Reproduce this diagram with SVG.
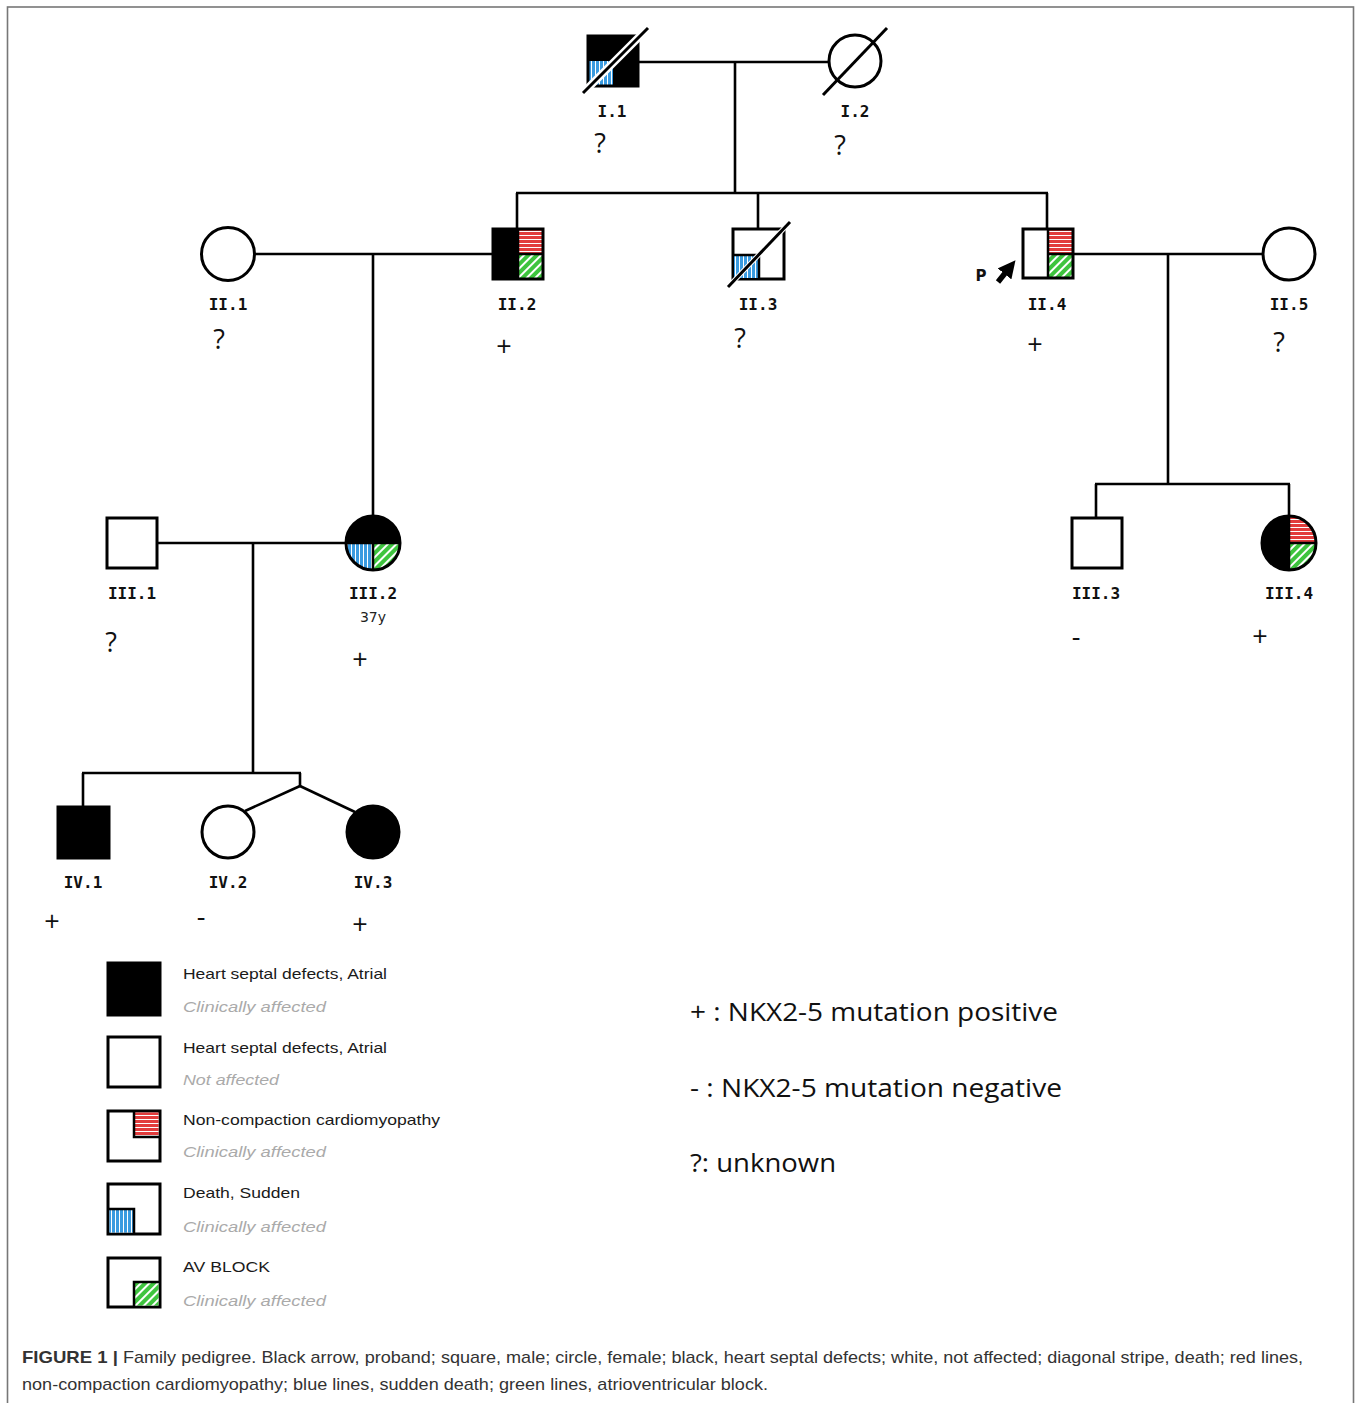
<svg xmlns="http://www.w3.org/2000/svg" width="1360" height="1403" viewBox="0 0 1360 1403">
<style>
.sh{fill:#fff;stroke:#000;stroke-width:3}
.blk{fill:#000;stroke:#000;stroke-width:3}
.ln{stroke:#000;stroke-width:2.6;fill:none}
.dv{stroke:#000;stroke-width:2.5;fill:none}
.lab{font-family:"DejaVu Sans Mono",monospace;font-weight:bold;font-size:16px;text-anchor:middle;fill:#111}
.gt{font-family:"Open Sans","Noto Sans",sans-serif;font-size:27px;text-anchor:middle;fill:#111}
.lg{font-family:"Liberation Sans",Arial,sans-serif;font-size:15px;fill:#1a1a1a}
.lgs{font-family:"Liberation Sans",Arial,sans-serif;font-size:15px;font-style:italic;fill:#aaa}
.key{font-family:"Open Sans","Noto Sans",sans-serif;font-size:25px;fill:#111}
.cap{font-family:"Liberation Sans Narrow","Liberation Sans",Arial,sans-serif;font-size:17px;fill:#333}
.halo{stroke:#fff;stroke-width:8;fill:none}
.slash{stroke:#000;stroke-width:3;fill:none}
</style>
<defs>
<pattern id="red" patternUnits="userSpaceOnUse" width="8" height="4">
<rect width="8" height="4" fill="#e23c3c"/><rect y="3" width="8" height="1" fill="#fff"/>
</pattern>
<pattern id="blue" patternUnits="userSpaceOnUse" width="4" height="8">
<rect width="4" height="8" fill="#3a9be0"/><rect x="3" width="1" height="8" fill="#fff"/>
</pattern>
<pattern id="green" patternUnits="userSpaceOnUse" width="6" height="6" patternTransform="rotate(45)">
<rect width="6" height="6" fill="#3ec43e"/><rect x="4" width="2" height="6" fill="#fff"/>
</pattern>
<marker id="arr" viewBox="0 0 10 10" refX="5" refY="5" markerWidth="3.2" markerHeight="3.2" orient="auto">
<path d="M0,0 L10,5 L0,10 Z" fill="#000"/>
</marker>
</defs>
<rect width="1360" height="1403" fill="#fff"/>
<rect x="7.5" y="7" width="1346" height="1410" fill="none" stroke="#777" stroke-width="1.6"/>

<g id="connectors">
<line class="ln" x1="638" y1="62" x2="829" y2="62"/>
<line class="ln" x1="735" y1="62" x2="735" y2="193"/>
<line class="ln" x1="516" y1="193" x2="1048" y2="193"/>
<line class="ln" x1="517" y1="193" x2="517" y2="229"/>
<line class="ln" x1="758" y1="193" x2="758" y2="229"/>
<line class="ln" x1="1047" y1="193" x2="1047" y2="229"/>
<line class="ln" x1="255" y1="254" x2="493" y2="254"/>
<line class="ln" x1="373" y1="254" x2="373" y2="516"/>
<line class="ln" x1="1073" y1="254" x2="1263" y2="254"/>
<line class="ln" x1="1168" y1="254" x2="1168" y2="484"/>
<line class="ln" x1="1095" y1="484" x2="1290" y2="484"/>
<line class="ln" x1="1096" y1="484" x2="1096" y2="518"/>
<line class="ln" x1="1289" y1="484" x2="1289" y2="516"/>
<line class="ln" x1="157" y1="543" x2="346" y2="543"/>
<line class="ln" x1="253" y1="543" x2="253" y2="773"/>
<line class="ln" x1="82" y1="773" x2="301" y2="773"/>
<line class="ln" x1="83" y1="773" x2="83" y2="807"/>
<line class="ln" x1="300" y1="773" x2="300" y2="786"/>
<line class="ln" x1="300" y1="786" x2="245" y2="811"/>
<line class="ln" x1="300" y1="786" x2="355" y2="812"/>
</g>

<g id="I1">
<rect class="blk" x="588" y="36" width="50" height="50"/>
<rect x="589.5" y="61" width="23.5" height="23.5" fill="url(#blue)"/>
<line class="halo" x1="583" y1="93" x2="648" y2="28"/>
<line class="slash" x1="583" y1="93" x2="648" y2="28"/>
<text class="lab" x="612" y="117">I.1</text>
<text class="gt" x="600" y="153">?</text>
</g>

<g id="I2">
<circle class="sh" cx="855" cy="61" r="26"/>
<line class="slash" x1="823" y1="95" x2="887" y2="28"/>
<text class="lab" x="855" y="117">I.2</text>
<text class="gt" x="840" y="155">?</text>
</g>

<g id="II1">
<circle class="sh" cx="228" cy="254" r="26.5"/>
<text class="lab" x="228" y="310">II.1</text>
<text class="gt" x="219" y="349">?</text>
</g>

<g id="II2">
<rect x="493" y="229" width="25" height="50" fill="#000"/>
<rect x="518" y="229" width="25" height="25" fill="url(#red)"/>
<rect x="518" y="254" width="25" height="25" fill="url(#green)"/>
<line class="dv" x1="518" y1="229" x2="518" y2="279"/>
<line class="dv" x1="518" y1="254" x2="543" y2="254"/>
<rect x="493" y="229" width="50" height="50" fill="none" stroke="#000" stroke-width="3"/>
<text class="lab" x="517" y="310">II.2</text>
<text class="gt" x="504" y="356">+</text>
</g>

<g id="II3">
<rect class="sh" x="733" y="229" width="51" height="50"/>
<rect x="734" y="255" width="25" height="23" fill="url(#blue)"/>
<path class="dv" d="M733,255 H759 V279"/>
<line class="halo" x1="728" y1="287" x2="790" y2="222" style="stroke-width:5"/>
<line class="slash" x1="728" y1="287" x2="790" y2="222"/>
<text class="lab" x="758" y="310">II.3</text>
<text class="gt" x="740" y="348">?</text>
</g>

<g id="II4">
<rect x="1023" y="229" width="50" height="49" fill="#fff"/>
<rect x="1048" y="229" width="25" height="25" fill="url(#red)"/>
<rect x="1048" y="254" width="25" height="24" fill="url(#green)"/>
<line class="dv" x1="1048" y1="229" x2="1048" y2="278"/>
<line class="dv" x1="1048" y1="254" x2="1073" y2="254"/>
<rect x="1023" y="229" width="50" height="49" fill="none" stroke="#000" stroke-width="3"/>
<text x="981" y="281" font-family="DejaVu Sans,sans-serif" font-weight="bold" font-size="15" text-anchor="middle" fill="#111">P</text>
<line x1="998" y1="282" x2="1010" y2="267" stroke="#000" stroke-width="5.5" marker-end="url(#arr)"/>
<text class="lab" x="1047" y="310">II.4</text>
<text class="gt" x="1035" y="354">+</text>
</g>

<g id="II5">
<circle class="sh" cx="1289" cy="254" r="26"/>
<text class="lab" x="1289" y="310">II.5</text>
<text class="gt" x="1279" y="352">?</text>
</g>

<g id="III1">
<rect class="sh" x="107" y="518" width="50" height="50"/>
<text class="lab" x="132" y="599">III.1</text>
<text class="gt" x="111" y="652">?</text>
</g>

<g id="III2">
<circle cx="373" cy="543" r="27" fill="#fff"/>
<path d="M346,543 A27,27 0 0 1 400,543 Z" fill="#000"/>
<path d="M373,543 L346,543 A27,27 0 0 0 373,570 Z" fill="url(#blue)"/>
<path d="M373,543 L373,570 A27,27 0 0 0 400,543 Z" fill="url(#green)"/>
<line class="dv" x1="346" y1="543" x2="400" y2="543"/>
<line class="dv" x1="373" y1="543" x2="373" y2="570"/>
<circle cx="373" cy="543" r="27" fill="none" stroke="#000" stroke-width="3"/>
<text class="lab" x="373" y="599">III.2</text>
<text x="373" y="622" font-family="DejaVu Sans,sans-serif" font-size="14" text-anchor="middle" fill="#222">37y</text>
<text class="gt" x="360" y="669">+</text>
</g>

<g id="III3">
<rect class="sh" x="1072" y="518" width="50" height="50"/>
<text class="lab" x="1096" y="599">III.3</text>
<text class="gt" x="1076" y="646">-</text>
</g>

<g id="III4">
<circle cx="1289" cy="543" r="27" fill="#fff"/>
<path d="M1289,516 A27,27 0 0 0 1289,570 Z" fill="#000"/>
<path d="M1289,543 L1289,516 A27,27 0 0 1 1316,543 Z" fill="url(#red)"/>
<path d="M1289,543 L1316,543 A27,27 0 0 1 1289,570 Z" fill="url(#green)"/>
<line class="dv" x1="1289" y1="516" x2="1289" y2="570"/>
<line class="dv" x1="1289" y1="543" x2="1316" y2="543"/>
<circle cx="1289" cy="543" r="27" fill="none" stroke="#000" stroke-width="3"/>
<text class="lab" x="1289" y="599">III.4</text>
<text class="gt" x="1260" y="646">+</text>
</g>

<g id="IV1">
<rect class="blk" x="58" y="807" width="51" height="51"/>
<text class="lab" x="83" y="888">IV.1</text>
<text class="gt" x="52" y="931">+</text>
</g>

<g id="IV2">
<circle class="sh" cx="228" cy="832" r="26"/>
<text class="lab" x="228" y="888">IV.2</text>
<text class="gt" x="201" y="926">-</text>
</g>

<g id="IV3">
<circle class="blk" cx="373" cy="832" r="26"/>
<text class="lab" x="373" y="888">IV.3</text>
<text class="gt" x="360" y="934">+</text>
</g>

<g id="legend">
<rect class="blk" x="108" y="963" width="52" height="52"/>
<text class="lg" x="183" y="979" textLength="204" lengthAdjust="spacingAndGlyphs">Heart septal defects, Atrial</text>
<text class="lgs" x="183" y="1012" textLength="143" lengthAdjust="spacingAndGlyphs">Clinically affected</text>

<rect class="sh" x="108" y="1037" width="52" height="50"/>
<text class="lg" x="183" y="1053" textLength="204" lengthAdjust="spacingAndGlyphs">Heart septal defects, Atrial</text>
<text class="lgs" x="183" y="1085" textLength="96" lengthAdjust="spacingAndGlyphs">Not affected</text>

<rect class="sh" x="108" y="1111" width="52" height="50"/>
<rect x="134" y="1112.5" width="24.5" height="24.5" fill="url(#red)"/>
<path class="dv" d="M134,1111 V1137 H160"/>
<text class="lg" x="183" y="1125" textLength="257" lengthAdjust="spacingAndGlyphs">Non-compaction cardiomyopathy</text>
<text class="lgs" x="183" y="1157" textLength="143" lengthAdjust="spacingAndGlyphs">Clinically affected</text>

<rect class="sh" x="108" y="1184" width="52" height="50"/>
<rect x="109.5" y="1209" width="24.5" height="23.5" fill="url(#blue)"/>
<path class="dv" d="M108,1209 H134 V1234"/>
<text class="lg" x="183" y="1198" textLength="117" lengthAdjust="spacingAndGlyphs">Death, Sudden</text>
<text class="lgs" x="183" y="1232" textLength="143" lengthAdjust="spacingAndGlyphs">Clinically affected</text>

<rect class="sh" x="108" y="1258" width="52" height="49"/>
<rect x="134" y="1282" width="24.5" height="23.5" fill="url(#green)"/>
<path class="dv" d="M134,1307 V1282 H160"/>
<text class="lg" x="183" y="1272" textLength="87" lengthAdjust="spacingAndGlyphs">AV BLOCK</text>
<text class="lgs" x="183" y="1306" textLength="143" lengthAdjust="spacingAndGlyphs">Clinically affected</text>
</g>

<g id="key">
<text class="key" x="690" y="1021" textLength="368" lengthAdjust="spacingAndGlyphs">+ : NKX2-5 mutation positive</text>
<text class="key" x="690" y="1097" textLength="372" lengthAdjust="spacingAndGlyphs">- : NKX2-5 mutation negative</text>
<text class="key" x="690" y="1172" textLength="146" lengthAdjust="spacingAndGlyphs">?: unknown</text>
</g>

<g id="caption">
<text class="cap" x="22" y="1363" font-weight="bold" fill="#222" textLength="96" lengthAdjust="spacingAndGlyphs">FIGURE 1 |</text>
<text class="cap" x="123" y="1363" textLength="1180" lengthAdjust="spacingAndGlyphs">Family pedigree. Black arrow, proband; square, male; circle, female; black, heart septal defects; white, not affected; diagonal stripe, death; red lines,</text>
<text class="cap" x="22" y="1390" textLength="746" lengthAdjust="spacingAndGlyphs">non-compaction cardiomyopathy; blue lines, sudden death; green lines, atrioventricular block.</text>
</g>
</svg>
